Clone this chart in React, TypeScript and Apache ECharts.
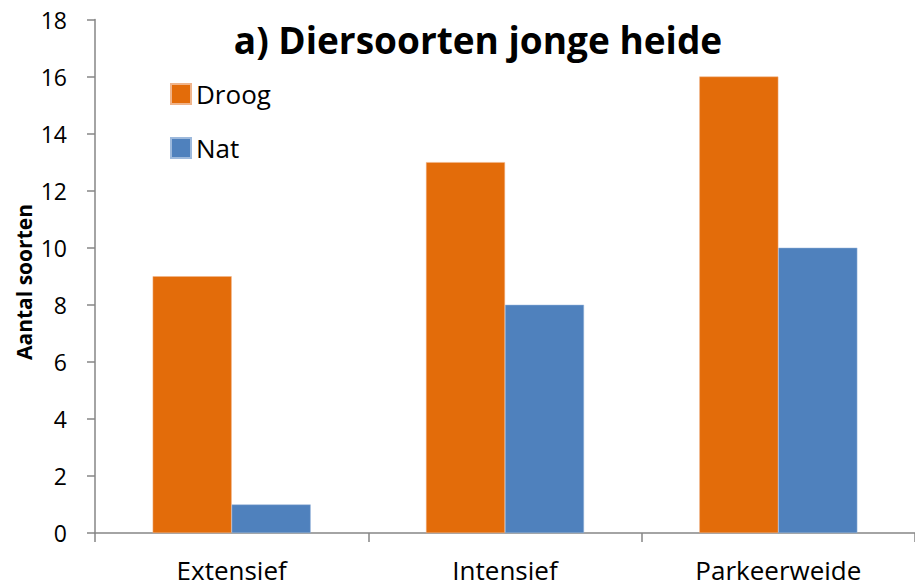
import React, { useEffect, useRef } from "react";
import * as echarts from "echarts";

const categories = ["Extensief", "Intensief", "Parkeerweide"];
const droog = [9, 13, 16];
const nat = [1, 8, 10];
const seriesNames = ["Droog", "Nat"];
const titleText = "a) Diersoorten jonge heide";
const yAxisTitle = "Aantal soorten";

const FONT = "'Open Sans', 'Noto Sans', sans-serif";

export default function App() {
  const ref = useRef<HTMLDivElement>(null);
  useEffect(() => {
    if (!ref.current) return;
    const chart = echarts.init(ref.current, null, { renderer: "svg" });
    chart.setOption({
      animation: false,
      backgroundColor: "#ffffff",
      title: {
        text: titleText,
        left: 478,
        textAlign: "center",
        top: 21,
        padding: 0,
        textStyle: { fontFamily: FONT, fontSize: 37, fontWeight: "bold", color: "#000" },
      },
      legend: {
        orient: "vertical",
        left: 170,
        top: 81,
        padding: 0,
        itemWidth: 20,
        itemHeight: 20,
        itemGap: 28,
        icon: "rect",
        textStyle: { fontFamily: FONT, fontSize: 26, color: "#000" },
        data: seriesNames,
      },
      graphic: [
        {
          type: "text",
          x: 24,
          y: 282,
          rotation: Math.PI / 2,
          style: {
            text: yAxisTitle,
            font: `bold 21px ${FONT}`,
            fill: "#000",
            align: "center",
            verticalAlign: "middle",
          },
        },
      ],
      grid: { left: 95, top: 19.5, width: 826.5, height: 513.5, containLabel: false },
      xAxis: {
        type: "category",
        data: categories,
        axisLine: { lineStyle: { color: "#868686", width: 1.5 } },
        axisTick: { show: true, length: 9, lineStyle: { color: "#868686", width: 1.5 } },
        axisLabel: { margin: 23, fontFamily: FONT, fontSize: 26, lineHeight: 28, color: "#000" },
      },
      yAxis: {
        type: "value",
        min: 0,
        max: 18,
        interval: 2,
        splitLine: { show: false },
        axisLine: { show: true, lineStyle: { color: "#868686", width: 1.5 } },
        axisTick: { show: true, length: 8, lineStyle: { color: "#868686", width: 1.5 } },
        axisLabel: { margin: 28, fontFamily: FONT, fontSize: 23, color: "#000" },
      },
      series: [
        {
          name: seriesNames[0],
          type: "bar",
          data: droog,
          barWidth: 79,
          barGap: "0%",
          itemStyle: { color: "#E36C0A", borderColor: "#f0b48a", borderWidth: 0.5 },
        },
        {
          name: seriesNames[1],
          type: "bar",
          data: nat,
          barWidth: 79,
          barGap: "0%",
          itemStyle: { color: "#4F81BD", borderColor: "#9db9dc", borderWidth: 0.5 },
        },
      ],
    });
    return () => chart.dispose();
  }, []);
  return <div ref={ref} style={{ width: 915, height: 588, position: "absolute", left: 0, top: 0 }} />;
}
